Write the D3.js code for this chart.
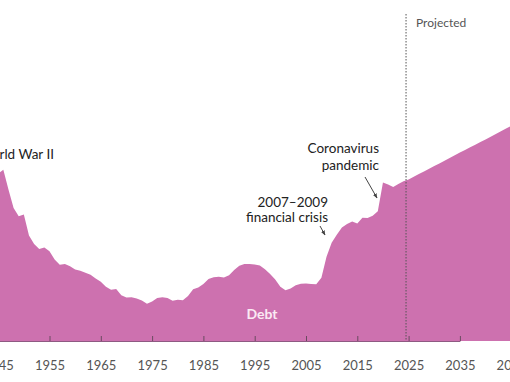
<!DOCTYPE html>
<html>
<head>
<meta charset="utf-8">
<script src="https://cdn.jsdelivr.net/npm/d3@7"></script>
<style>
  html, body { margin: 0; padding: 0; background: #fff; }
  svg { display: block; font-family: Lato, "Open Sans", sans-serif; }
</style>
</head>
<body>
<svg id="chart" width="510" height="382"></svg>
<script>
// Federal debt held by the public, percentage of GDP
const histYears = [1940,1941,1942,1943,1944,1945,1946,1947,1948,1949,
  1950,1951,1952,1953,1954,1955,1956,1957,1958,1959,
  1960,1961,1962,1963,1964,1965,1966,1967,1968,1969,
  1970,1971,1972,1973,1974,1975,1976,1977,1978,1979,
  1980,1981,1982,1983,1984,1985,1986,1987,1988,1989,
  1990,1991,1992,1993,1994,1995,1996,1997,1998,1999,
  2000,2001,2002,2003,2004,2005,2006,2007,2008,2009,
  2010,2011,2012,2013,2014,2015,2016,2017,2018,2019,
  2020,2021,2022,2023,2024];
const histDebt = [44.2,41.5,47.0,70.9,88.3,103.9,106.1,93.9,82.4,77.4,
  78.5,65.4,60.1,57.1,57.9,55.7,50.6,47.2,47.7,46.4,
  44.3,43.5,42.3,41.0,38.7,36.7,33.7,31.8,32.2,28.3,
  27.0,27.1,26.4,25.1,23.1,24.5,26.7,27.1,26.6,24.9,
  25.5,25.2,27.9,32.1,33.1,35.3,38.4,39.5,39.8,39.3,
  40.8,44.0,46.6,47.8,47.7,47.5,46.8,44.5,41.6,38.2,
  33.7,31.4,32.5,34.5,35.5,35.6,35.3,35.2,39.2,52.3,
  60.9,65.9,70.4,72.6,74.1,72.9,76.4,76.2,77.6,80.5,
  98.2,97.0,95.5,97.3,99.0];
const projYears = [2025,2026,2027,2028,2029,2030,2031,2032,2033,2034,2035,
  2036,2037,2038,2039,2040,2041,2042,2043,2044,2045,2046];
const projDebt = [100.2,101.8,103.5,105.1,106.8,108.5,110.1,111.8,113.4,115.1,116.8,
  118.4,120.1,121.7,123.4,125.0,126.7,128.4,130.0,131.7,133.3,135.0];
const tickYears = [1945,1955,1965,1975,1985,1995,2005,2015,2025,2035,2045];
const projectionStart = 2024.5;

const allData = histYears.map((y, i) => ({year: y, value: histDebt[i]}))
  .concat(projYears.map((y, i) => ({year: y, value: projDebt[i]})));

const svg = d3.select("#chart");

const x = d3.scaleLinear().domain([1945, 2035]).range([-1.8, 459.9]);
const y = d3.scaleLinear().domain([0, 100]).range([341, 179.7]);

const fill = "#cd71af";

svg.append("path")
  .datum(allData)
  .attr("fill", fill)
  .attr("d", d3.area()
    .x(d => x(d.year))
    .y0(y(0))
    .y1(d => y(d.value))
    .curve(d3.curveLinear));

// axis
const axis = d3.axisBottom(x)
  .tickValues(tickYears)
  .tickFormat(d3.format("d"))
  .tickSizeInner(-5)
  .tickSizeOuter(0)
  .tickPadding(20);

const gAxis = svg.append("g")
  .attr("transform", `translate(0,${y(0)})`)
  .call(axis);
gAxis.select(".domain").attr("stroke", "#8e5a82").attr("stroke-width", 1);
gAxis.selectAll(".tick line").attr("stroke", "#6a4a60").attr("stroke-width", 1);
gAxis.selectAll(".tick text")
  .attr("fill", "#555")
  .attr("font-size", 13)
  .attr("font-family", "Lato, 'Open Sans', sans-serif");

// projection divider
svg.append("line")
  .attr("x1", x(projectionStart)).attr("x2", x(projectionStart))
  .attr("y1", 14).attr("y2", y(0))
  .attr("stroke", "#555")
  .attr("stroke-width", 1)
  .attr("stroke-dasharray", "1.5,1.5");

svg.append("text")
  .attr("x", x(projectionStart) + 10)
  .attr("y", 27)
  .attr("fill", "#555")
  .attr("font-size", 12)
  .text("Projected");

// annotations
const ann = svg.append("g").attr("fill", "#222").attr("font-size", 13.5);

ann.append("text")
  .attr("x", 54).attr("y", 159)
  .attr("text-anchor", "end")
  .text("World War II");

ann.append("text")
  .attr("x", 379).attr("y", 153)
  .attr("text-anchor", "end")
  .text("Coronavirus");
ann.append("text")
  .attr("x", 379).attr("y", 170)
  .attr("text-anchor", "end")
  .text("pandemic");

ann.append("text")
  .attr("x", 328).attr("y", 207)
  .attr("text-anchor", "end")
  .text("2007–2009");
ann.append("text")
  .attr("x", 328).attr("y", 222)
  .attr("text-anchor", "end")
  .text("financial crisis");

// arrows
const defs = svg.append("defs");
defs.append("marker")
  .attr("id", "arr")
  .attr("viewBox", "0 0 10 10")
  .attr("refX", 9).attr("refY", 5)
  .attr("markerWidth", 5).attr("markerHeight", 5)
  .attr("orient", "auto")
  .append("path")
  .attr("d", "M0,1 L10,5 L0,9 Z")
  .attr("fill", "#444");

svg.append("line")
  .attr("x1", 365).attr("y1", 177)
  .attr("x2", 377).attr("y2", 198)
  .attr("stroke", "#444").attr("stroke-width", 1)
  .attr("marker-end", "url(#arr)");

svg.append("line")
  .attr("x1", 320).attr("y1", 226)
  .attr("x2", 325).attr("y2", 235)
  .attr("stroke", "#444").attr("stroke-width", 1)
  .attr("marker-end", "url(#arr)");

// Debt label
svg.append("text")
  .attr("x", 262).attr("y", 319)
  .attr("text-anchor", "middle")
  .attr("fill", "#fbeaf4")
  .attr("font-size", 14)
  .attr("font-weight", "bold")
  .text("Debt");
</script>
</body>
</html>
